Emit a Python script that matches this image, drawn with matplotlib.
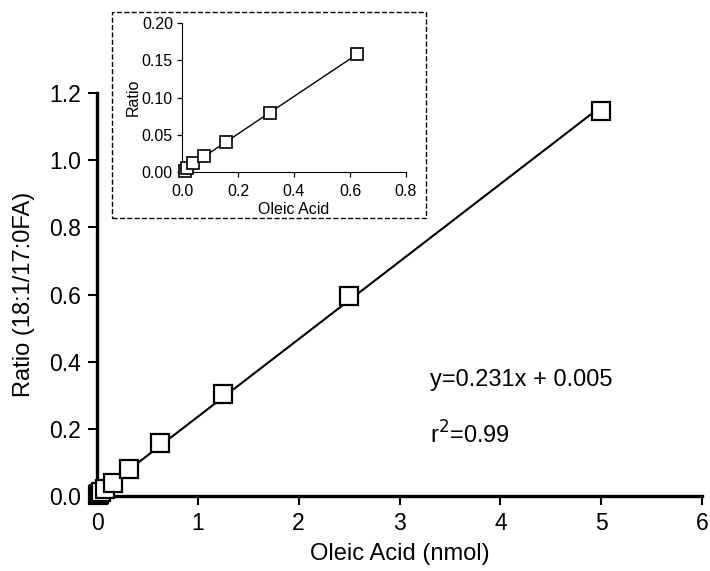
import numpy as np
import matplotlib
matplotlib.use("Agg")
import matplotlib.pyplot as plt
from matplotlib.patches import Rectangle

plt.rcParams["font.family"] = ["Liberation Sans", "DejaVu Sans"]

# serial dilution of oleic acid (nmol) vs. measured 18:1/17:0 ratio
oleic = [0.0098, 0.0195, 0.039, 0.078, 0.156, 0.3125, 0.625, 1.25, 2.5, 5.0]
ratio = [0.002, 0.005, 0.012, 0.022, 0.040, 0.079, 0.158, 0.305, 0.596, 1.146]
slope, intercept = 0.231, 0.005

# inset uses the low range only
inset_x = oleic[:7]
inset_y = ratio[:7]

W, H = 710, 571
fig = plt.figure(figsize=(W / 100, H / 100), dpi=100)

ax = fig.add_axes([97 / W, 1 - 496 / H, (702 - 97) / W, (496 - 93) / H])
xf = np.array([0, max(oleic)])
ax.plot(xf, slope * xf + intercept, color="black", lw=1.5, zorder=2)
ax.plot(oleic, ratio, ls="none", marker="s", ms=13, mfc="white", mec="black",
        mew=1.6, clip_on=False, zorder=3)
ax.set_xlim(0, 6)
ax.set_ylim(0, 1.2)
ax.set_xticks(range(7))
ax.set_yticks(np.arange(0, 1.21, 0.2))
ax.set_yticklabels([f"{v:.1f}" for v in np.arange(0, 1.21, 0.2)])
for s in ["top", "right"]:
    ax.spines[s].set_visible(False)
for s in ["left", "bottom"]:
    ax.spines[s].set_linewidth(2.4)
ax.tick_params(direction="out", length=6.5, width=1.5, labelsize=16.5, pad=5)
ax.set_xlabel("Oleic Acid (nmol)", fontsize=17, labelpad=6)
ax.set_ylabel("Ratio (18:1/17:0FA)", fontsize=17, labelpad=10)

ax.text(430 / W, 1 - 380 / H, "y=0.231x + 0.005", transform=fig.transFigure,
        fontsize=17, va="center")
ax.text(430 / W, 1 - 435 / H, "r$^2$=0.99", transform=fig.transFigure,
        fontsize=17, va="center")

# dashed frame around inset
fig.patches.append(Rectangle((112 / W, 1 - 218 / H), (426 - 112) / W, (218 - 12) / H,
                             transform=fig.transFigure, fill=False, ls="--",
                             lw=1.0, edgecolor="black"))

ins = fig.add_axes([182 / W, 1 - 172 / H, (406 - 182) / W, (172 - 23) / H])
m, b = np.polyfit(inset_x, inset_y, 1)
xi = np.array([0, max(inset_x)])
ins.plot(xi, m * xi + b, color="black", lw=1.0, zorder=2)
ins.plot(inset_x, inset_y, ls="none", marker="s", ms=8, mfc="white", mec="black",
         mew=1.2, clip_on=False, zorder=3)
ins.set_xlim(0, 0.8)
ins.set_ylim(0, 0.2)
ins.set_xticks(np.arange(0, 0.81, 0.2))
ins.set_yticks(np.arange(0, 0.201, 0.05))
ins.set_yticklabels([f"{v:.2f}" for v in np.arange(0, 0.201, 0.05)])
for s in ["top", "right"]:
    ins.spines[s].set_visible(False)
ins.tick_params(direction="out", length=3.5, width=0.9, labelsize=11.5, pad=3)
ins.tick_params(axis="x", pad=5)
ins.set_xlabel("Oleic Acid", fontsize=11.5, labelpad=2)
ins.set_ylabel("Ratio", fontsize=11.5, labelpad=1)

fig.savefig("out.png", dpi=100)
